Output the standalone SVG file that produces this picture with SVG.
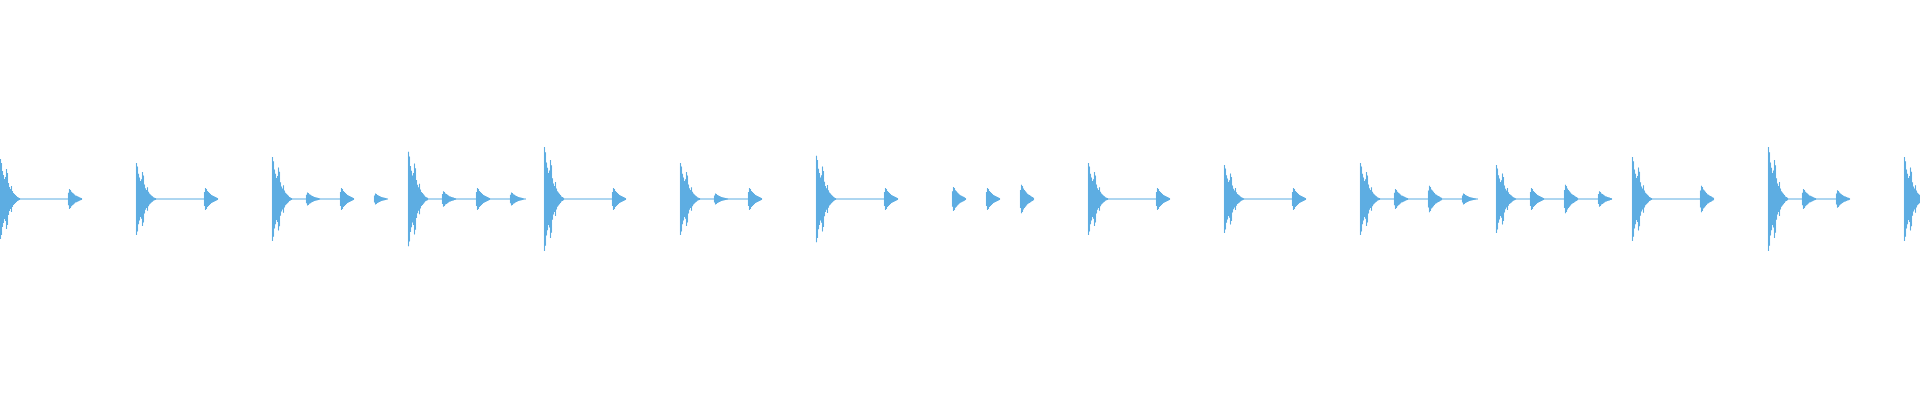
<svg xmlns="http://www.w3.org/2000/svg" xmlns:xlink="http://www.w3.org/1999/xlink" width="1920" height="400" viewBox="0 0 1920 400">
<defs>
<style>.w{fill:none;stroke:#5dade2;stroke-width:1.1}.b{fill:none;stroke:#5dade2;stroke-width:1}</style>
<path id="big" class="w" d="M0.5 -40V40M1.5 -36V36M2.5 -28V28M3.5 -24V24M4.5 -20V20M5.5 -22V22M6.5 -30V30M7.5 -26V26M8.5 -16V16M9.5 -12V12M10.5 -10V10M11.5 -13V13M12.5 -8V8M13.5 -6V6M14.5 -5V5M15.5 -4V4M16.5 -3V3M17.5 -2V2M18.5 -1.5V1.5M19.5 -1V1"/>
<path id="sm" class="w" d="M0.5 -7V7M1.5 -11V11M2.5 -10V10M3.5 -8V8M4.5 -7V7M5.5 -6V6M6.5 -5V5M7.5 -4V4M8.5 -3.5V3.5M9.5 -3V3M10.5 -2.5V2.5M11.5 -2V2M12.5 -1.5V1.5M13.5 -1V1"/>
</defs>
<g id="connectors">
<path class="b" d="M18 199H70M154 199H206M290 199H354M426 199H526M562 199H626M698 199H750M834 199H898M1106 199H1170M1242 199H1306M1378 199H1478M1514 199H1612M1650 199H1714M1786 199H1850"/>
</g>
<g id="big-hits">
<use href="#big" transform="translate(0,199) scale(1,1)"/>
<use href="#big" transform="translate(136,199) scale(1,0.9)"/>
<use href="#big" transform="translate(272,199) scale(1,1.05)"/>
<use href="#big" transform="translate(408,199) scale(1,1.18)"/>
<use href="#big" transform="translate(544,199) scale(1,1.3)"/>
<use href="#big" transform="translate(680,199) scale(1,0.9)"/>
<use href="#big" transform="translate(816,199) scale(1,1.08)"/>
<use href="#big" transform="translate(1088,199) scale(1,0.9)"/>
<use href="#big" transform="translate(1224,199) scale(1,0.85)"/>
<use href="#big" transform="translate(1360,199) scale(1,0.9)"/>
<use href="#big" transform="translate(1496,199) scale(1,0.85)"/>
<use href="#big" transform="translate(1632,199) scale(1,1.05)"/>
<use href="#big" transform="translate(1768,199) scale(1,1.3)"/>
<use href="#big" transform="translate(1904,199) scale(1,1.05)"/>
</g>
<g id="small-hits">
<use href="#sm" transform="translate(68,199) scale(1,0.9)"/>
<use href="#sm" transform="translate(204,199) scale(1,1)"/>
<use href="#sm" transform="translate(306,199) scale(1,0.6)"/>
<use href="#sm" transform="translate(340,199) scale(1,1)"/>
<use href="#sm" transform="translate(374,199) scale(1,0.5)"/>
<use href="#sm" transform="translate(442,199) scale(1,0.7)"/>
<use href="#sm" transform="translate(476,199) scale(1,1)"/>
<use href="#sm" transform="translate(510,199) scale(1,0.6)"/>
<use href="#sm" transform="translate(612,199) scale(1,1)"/>
<use href="#sm" transform="translate(714,199) scale(1,0.5)"/>
<use href="#sm" transform="translate(748,199) scale(1,1)"/>
<use href="#sm" transform="translate(884,199) scale(1,1)"/>
<use href="#sm" transform="translate(952,199) scale(1,1.1)"/>
<use href="#sm" transform="translate(986,199) scale(1,1)"/>
<use href="#sm" transform="translate(1020,199) scale(1,1.3)"/>
<use href="#sm" transform="translate(1156,199) scale(1,1)"/>
<use href="#sm" transform="translate(1292,199) scale(1,1)"/>
<use href="#sm" transform="translate(1394,199) scale(1,0.9)"/>
<use href="#sm" transform="translate(1428,199) scale(1,1.2)"/>
<use href="#sm" transform="translate(1462,199) scale(1,0.5)"/>
<use href="#sm" transform="translate(1530,199) scale(1,1)"/>
<use href="#sm" transform="translate(1564,199) scale(1,1.3)"/>
<use href="#sm" transform="translate(1598,199) scale(1,0.7)"/>
<use href="#sm" transform="translate(1700,199) scale(1,1.2)"/>
<use href="#sm" transform="translate(1802,199) scale(1,0.9)"/>
<use href="#sm" transform="translate(1836,199) scale(1,0.8)"/>
</g>
</svg>
